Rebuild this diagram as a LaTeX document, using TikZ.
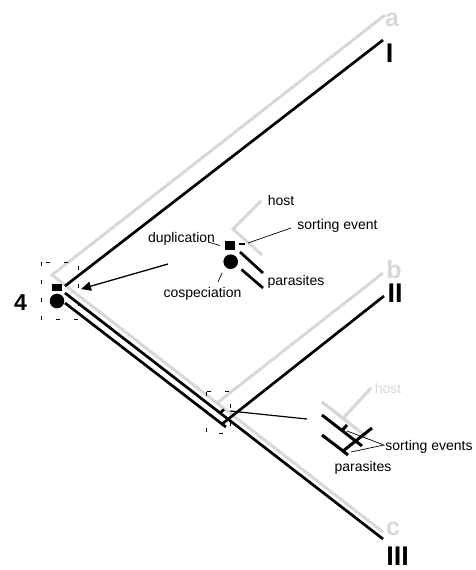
\documentclass[tikz,border=0pt]{standalone}
\usepackage{fontspec}
\setmainfont{Liberation Sans}
\usetikzlibrary{arrows.meta}
\definecolor{hostgray}{RGB}{216,216,216}
\begin{document}
\begin{tikzpicture}[x=1pt,y=-1pt,
  hostline/.style={line width=3pt, color=hostgray, line cap=butt},
  paraline/.style={line width=2.7pt, black},
  lead/.style={line width=0.7pt, black},
  dbox/.style={line width=1pt, dash pattern=on 4pt off 14pt},
  lbl/.style={anchor=base, inner sep=0pt, font=\fontsize{14}{16}\selectfont},
  big/.style={anchor=base, inner sep=0pt, font=\fontsize{27}{30}\selectfont\bfseries},
  hostlbl/.style={anchor=base, inner sep=0pt, text=hostgray, font=\fontsize{25}{28}\selectfont\bfseries},
  ]
\useasboundingbox (0,0) rectangle (475,570);

% ---------- host tree (gray) ----------
\coordinate (g0) at (52,275);
\coordinate (ga) at (385,15);
\coordinate (gj) at (217,403);
\coordinate (gb) at (383,273);
\coordinate (gc) at (383,532);
\draw[hostline, line join=miter] (ga) -- (g0) -- (gc);
\draw[hostline] (gj) -- (gb);
\node[hostlbl] (la) at (392,27) {a};
\node[hostlbl] (lb) at (394,278) {b};
\node[hostlbl] (lc) at (393,535) {c};

% ---------- parasite tree (black) ----------
\coordinate (p0) at (65,286);
\coordinate (pI) at (383,40);
\coordinate (q1) at (65,293);
\coordinate (j1) at (220,413);
\coordinate (j1s) at (224,409.5);
\coordinate (pIII) at (383,539);
\coordinate (q2) at (65,303);
\coordinate (k2) at (222,424);
\coordinate (k2s) at (226,427);
\coordinate (pII) at (384,296);
\draw[paraline] (p0) -- (pI);
\draw[paraline] (q1) -- (pIII);
\draw[paraline] (j1) -- (j1s);
\draw[paraline] (q2) -- (k2) -- (pII);
\draw[paraline] (k2) -- (k2s);
\node[big] (lI) at (389.5,62) {I};
\node[big] (lII) at (395,302) {II};
\node[big] (lIII) at (397.5,565) {III};

% root events
\fill (52,284) rectangle (62,291);
\node[circle, fill=black, minimum size=14.6pt, inner sep=0pt] (rootc) at (57,301) {};
\node[anchor=base, inner sep=0pt, font=\fontsize{23}{26}\selectfont\bfseries] (l4) at (20.5,310) {4};
\draw[dbox] (41,262) rectangle (78,319.5);

% ---------- inset 1 (legend) ----------
\coordinate (ih1) at (261,201);
\coordinate (ih0) at (233,229);
\coordinate (ih2) at (262,255);
\draw[hostline, line join=miter] (ih1) -- (ih0) -- (ih2);
\fill (225,240.7) rectangle (235,250);
\coordinate (sd1) at (239.3,244);
\coordinate (sd2) at (245,244);
\draw[paraline] (sd1) -- (sd2);
\node[circle, fill=black, minimum size=14.6pt, inner sep=0pt] (ic) at (230.7,261.7) {};
\coordinate (ia1) at (240,252);
\coordinate (ia2) at (263,273);
\coordinate (ib1) at (241.5,269.5);
\coordinate (ib2) at (263,288);
\draw[paraline] (ia1) -- (ia2);
\draw[paraline] (ib1) -- (ib2);

\node[lbl] (thost1) at (281,205) {host};
\node[lbl] (tsort1) at (337.5,229) {sorting event};
\node[lbl] (tdup) at (181.5,242.5) {duplication};
\node[lbl] (tpar1) at (296,285) {parasites};
\node[lbl] (tcosp) at (202.5,297) {cospeciation};

\coordinate (ld1) at (208,242);
\coordinate (ld2) at (220,245.5);
\draw[lead] (ld1) -- (ld2);
\coordinate (ls1) at (248,243);
\coordinate (ls2) at (291,228);
\draw[lead] (ls1) -- (ls2);
\coordinate (lc1) at (218,282);
\coordinate (lc2) at (222,273);
\draw[lead] (lc1) -- (lc2);

% arrow from legend to root
\coordinate (ar1) at (168,264);
\coordinate (ar2) at (81,289);
\draw[line width=1.3pt, -{Triangle[length=10pt,width=9pt]}] (ar1) -- (ar2);

% ---------- inset 2 ----------
\draw[dbox] (206.7,391.7) rectangle (230,433.3);
\coordinate (zl1) at (230,411);
\coordinate (zl2) at (307,419);
\draw[line width=1.2pt] (zl1) -- (zl2);

\coordinate (h21) at (322,402);
\coordinate (h22) at (367,437);
\coordinate (h2j) at (343,418.4);
\coordinate (h2b) at (371,388);
\draw[hostline, line width=3.3pt] (h21) -- (h22);
\draw[hostline, line width=3.3pt] (h2j) -- (h2b);

\coordinate (a21) at (322,415);
\coordinate (a2p) at (342,430.5);
\coordinate (a2s) at (347,425);
\coordinate (a22) at (362,446);
\coordinate (b21) at (322,435);
\coordinate (b2p) at (343,451);
\coordinate (b2s) at (348,455);
\coordinate (b22) at (372,428);
\draw[paraline, line width=3pt] (a21) -- (a22);
\draw[paraline, line width=3pt] (a2p) -- (a2s);
\draw[paraline, line width=3pt] (b21) -- (b2p) -- (b22);
\draw[paraline, line width=3pt] (b2p) -- (b2s);

\node[lbl, text=hostgray] (thost2) at (388,393) {host};
\node[lbl] (tsort2) at (429,450) {sorting events};
\node[lbl] (tpar2) at (363,471) {parasites};
\coordinate (lse) at (384,445);
\coordinate (lse1) at (347,431);
\coordinate (lse2) at (351,452);
\draw[lead] (lse1) -- (lse) -- (lse2);
\end{tikzpicture}
\end{document}
